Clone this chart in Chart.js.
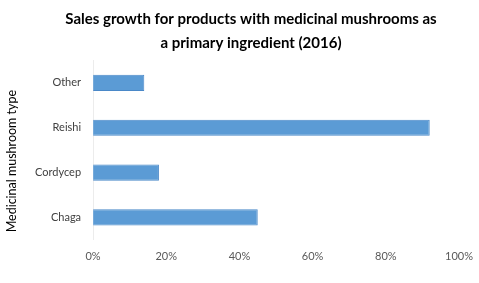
<!DOCTYPE html>
<html><head><meta charset="utf-8">
<script src="https://cdn.jsdelivr.net/npm/chart.js@4/dist/chart.umd.min.js"></script>
<style>html,body{margin:0;padding:0;background:#fff}#wrap{width:479px;height:283px;position:relative}</style>
</head><body><div id="wrap"><canvas id="c"></canvas></div>
<script>
const categories = ["Other", "Reishi", "Cordycep", "Chaga"];
const growthPct = [14, 92, 18, 45];
const xTicks = [0, 20, 40, 60, 80, 100];
const titleLines = ["Sales growth for products with medicinal mushrooms as", "a primary ingredient (2016)"];
const yTitle = "Medicinal mushroom type";

const yTitlePlugin = {
  id: 'yTitlePlugin',
  afterDraw(chart) {
    const ctx = chart.ctx, a = chart.chartArea;
    ctx.save();
    ctx.translate(12, (a.top + a.bottom) / 2 + 11);
    ctx.rotate(-Math.PI / 2);
    ctx.font = '12.5px Lato';
    ctx.fillStyle = '#000';
    ctx.textAlign = 'center';
    ctx.textBaseline = 'middle';
    ctx.fillText(yTitle, 0, 0);
    ctx.restore();
  }
};

new Chart(document.getElementById('c'), {
  type: 'bar',
  data: { labels: categories, datasets: [{ data: growthPct, backgroundColor: '#5B9BD5', borderColor: '#4A88C8', borderWidth: 1, barPercentage: 0.36, categoryPercentage: 1 }] },
  options: {
    indexAxis: 'y', responsive: true, maintainAspectRatio: false, animation: false,
    layout: { padding: { left: 23, right: 0, top: 6, bottom: 10 } },
    plugins: {
      legend: { display: false }, tooltip: { enabled: false },
      title: { display: true, text: titleLines, color: '#000', font: { family: 'Lato', weight: 'bold', size: 15, lineHeight: 1.55 }, padding: { top: 2, bottom: 6 } }
    },
    scales: {
      x: { min: 0, max: 100, grid: { display: false, drawTicks: false }, border: { display: false },
           afterBuildTicks: s => { s.ticks = xTicks.map(v => ({ value: v })); },
           afterFit: s => { s.paddingRight = 20; },
           ticks: { color: '#595959', font: { family: 'Lato', size: 11 }, padding: 10, callback: v => v + '%' } },
      y: { grid: { display: false, drawTicks: false }, border: { display: true, color: '#ececec' },
           ticks: { color: '#404040', font: { family: 'Lato', size: 11 }, padding: 12 } }
    }
  },
  plugins: [yTitlePlugin]
});
</script></body></html>
